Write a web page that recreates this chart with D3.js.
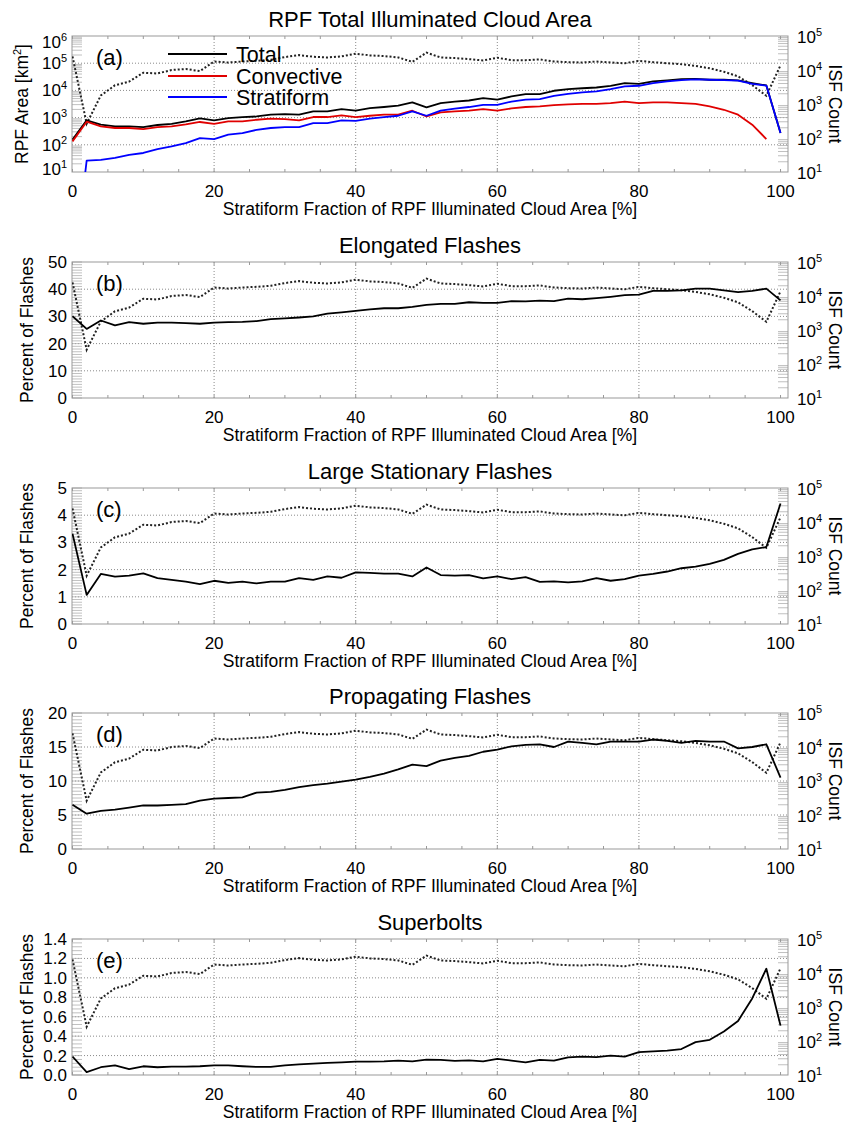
<!DOCTYPE html>
<html><head><meta charset="utf-8">
<script src="https://cdn.jsdelivr.net/npm/d3@7/dist/d3.min.js"></script>
<style>
body{margin:0;background:#fff}
text{font-family:"Liberation Sans",Arial,Helvetica,sans-serif;fill:#000}
</style>
</head><body>
<svg id="chart" width="849" height="1122"></svg>
<script>
// ---------- data ----------
const stratFrac = [0,2,4,6,8,10,12,14,16,18,20,22,24,26,28,30,32,34,36,38,40,42,44,46,48,50,52,54,56,58,60,62,64,66,68,70,72,74,76,78,80,82,84,86,88,90,92,94,96,98,100];
const areaTotal = [155,795,550,475,475,450,535,590,725,935,790,960,1045,1100,1280,1350,1290,1700,1700,2040,1820,2230,2450,2750,3650,2360,3400,3900,4250,5200,4550,6000,7300,7300,9700,11200,12000,12800,14800,18600,17500,21400,23300,25900,26700,24600,24600,23300,18600,15200,270];
const areaConv = [133,705,475,415,415,380,450,475,560,690,590,725,725,835,910,880,790,1050,1050,1200,1050,1170,1280,1280,1790,1100,1550,1700,1790,2040,1790,2170,2450,2590,2880,3040,3200,3200,3400,3900,3400,3650,3650,3400,3200,2590,1940,1280,550,163,null];
const areaStrat = [0.001,26,28,33,43,50,70,87,115,176,163,235,270,355,415,450,450,630,630,795,760,910,1050,1170,1700,1170,1790,2140,2450,2960,2960,3900,4550,4800,6300,7500,8500,9200,11200,14100,14800,18600,21400,24000,25300,24600,24000,22800,17500,15000,270];
const isfCount = [25100,263,1780,3550,4570,8300,7900,10000,10700,9300,17800,16600,17800,18600,20000,24000,27500,24500,23400,25100,30200,26900,25700,23400,17400,32400,23400,22400,20900,19100,22900,19500,19500,20400,17800,17000,16600,17800,16600,15800,18600,17000,15800,14800,13200,11200,8900,6500,3600,1740,13800];
const pctElongated = [30.1,25.4,28.5,26.7,27.9,27.3,27.7,27.7,27.5,27.3,27.7,27.9,28.0,28.3,29.0,29.3,29.6,30.0,31.0,31.5,32.0,32.6,33.0,33.0,33.5,34.2,34.6,34.6,35.2,35.0,35.0,35.6,35.5,35.8,35.6,36.5,36.3,36.7,37.2,37.8,38.0,39.4,39.4,39.6,40.2,40.2,39.6,38.9,39.4,40.2,35.9];
const pctLargeStationary = [3.32,1.07,1.84,1.74,1.78,1.86,1.69,1.62,1.56,1.47,1.59,1.51,1.56,1.49,1.56,1.56,1.69,1.62,1.75,1.70,1.90,1.88,1.85,1.85,1.75,2.08,1.80,1.78,1.80,1.68,1.75,1.65,1.72,1.55,1.57,1.53,1.57,1.69,1.59,1.65,1.78,1.84,1.93,2.05,2.11,2.21,2.36,2.58,2.74,2.83,4.43];
const pctPropagating = [6.5,5.2,5.6,5.8,6.1,6.4,6.4,6.5,6.6,7.1,7.4,7.5,7.6,8.3,8.4,8.7,9.1,9.4,9.6,9.9,10.2,10.6,11.1,11.7,12.4,12.2,13.0,13.4,13.7,14.3,14.6,15.1,15.3,15.4,15.0,15.8,15.6,15.4,15.8,15.8,15.8,16.1,15.9,15.6,15.9,15.8,15.8,14.8,15.0,15.4,10.5];
const pctSuperbolts = [0.19,0.03,0.08,0.10,0.06,0.09,0.08,0.087,0.087,0.09,0.10,0.10,0.09,0.083,0.083,0.10,0.11,0.117,0.124,0.13,0.138,0.138,0.141,0.148,0.141,0.158,0.155,0.145,0.151,0.141,0.165,0.148,0.131,0.155,0.148,0.182,0.19,0.185,0.20,0.19,0.236,0.243,0.25,0.267,0.338,0.362,0.447,0.556,0.788,1.094,0.508];

const xTicks = [0,20,40,60,80,100];
const titles = ["RPF Total Illuminated Cloud Area","Elongated Flashes","Large Stationary Flashes","Propagating Flashes","Superbolts"];
const letters = ["(a)","(b)","(c)","(d)","(e)"];
const legendNames = ["Total","Convective","Stratiform"];
const leftTicksA = [1e1,1e2,1e3,1e4,1e5,1e6];
const rightTicks = [1e1,1e2,1e3,1e4,1e5];
const ticksB = [0,10,20,30,40,50];
const ticksC = [0,1,2,3,4,5];
const ticksD = [0,5,10,15,20];
const ticksE = [0,0.2,0.4,0.6,0.8,1.0,1.2,1.4];
const xTitle = "Stratiform Fraction of RPF Illuminated Cloud Area [%]";
const yTitlePct = "Percent of Flashes";
const yTitleRight = "ISF Count";

// ---------- layout ----------
const svg = d3.select("#chart");
const L = 72, R = 788, H = 136;
const tops = [36, 262, 488, 713, 939];
const x = d3.scaleLinear().domain([0,101]).range([72.5,787.6]);

const panels = [
  {log:true, domain:[10,1e6], ticks:leftTicksA, series:[
    {v:areaTotal,c:"#000000"},{v:areaConv,c:"#e00000"},{v:areaStrat,c:"#0000ff"}]},
  {domain:[0,50], ticks:ticksB, minor:1, fmt:d3.format("d"), series:[{v:pctElongated,c:"#000"}]},
  {domain:[0,5], ticks:ticksC, minor:0.1, fmt:d3.format("d"), series:[{v:pctLargeStationary,c:"#000"}]},
  {domain:[0,20], ticks:ticksD, minor:0.5, fmt:d3.format("d"), series:[{v:pctPropagating,c:"#000"}]},
  {domain:[0,1.4], ticks:ticksE, minor:0.04, fmt:d3.format(".1f"), series:[{v:pctSuperbolts,c:"#000"}]}
];

function supLabel(sel, base, exp){
  sel.append("tspan").text(base);
  sel.append("tspan").attr("dy",-7).attr("font-size",11).text(exp);
}

panels.forEach((p,i)=>{
  const top = tops[i], bot = top+H;
  const g = svg.append("g");
  const y = p.log ? d3.scaleLog().domain(p.domain).range([bot,top])
                  : d3.scaleLinear().domain(p.domain).range([bot,top]);
  const yr = d3.scaleLog().domain([10,1e5]).range([bot,top]);

  const clipId = "clip"+i;
  svg.append("clipPath").attr("id",clipId).append("rect")
     .attr("x",L).attr("y",top).attr("width",R-L).attr("height",H);

  // grid
  g.selectAll(".vg").data(xTicks.filter(t=>t>0&&t<100)).join("line")
    .attr("x1",d=>x(d)).attr("x2",d=>x(d)).attr("y1",top).attr("y2",bot)
    .attr("stroke","#8a8a8a").attr("stroke-width",1).attr("stroke-dasharray","1,2");
  g.selectAll(".hg").data(p.ticks.filter(t=>y(t)>top+1&&y(t)<bot-1)).join("line")
    .attr("x1",L).attr("x2",R).attr("y1",d=>y(d)).attr("y2",d=>y(d))
    .attr("stroke","#8a8a8a").attr("stroke-width",1).attr("stroke-dasharray","1,2");

  // left minor ticks
  let leftMinor = [];
  if(p.log){
    for(let e=1;e<6;e++) for(let k=2;k<10;k++) leftMinor.push(k*Math.pow(10,e));
  } else {
    const n = Math.round((p.domain[1]-p.domain[0])/p.minor);
    for(let k=0;k<=n;k++) leftMinor.push(p.domain[0]+k*p.minor);
  }
  g.selectAll(".lm").data(leftMinor).join("line")
    .attr("x1",L).attr("x2",L+10).attr("y1",d=>y(d)).attr("y2",d=>y(d))
    .attr("stroke","#b0b0b0").attr("stroke-width",0.8);
  // right minor ticks (log)
  const rightMinor = [];
  for(let e=1;e<5;e++) for(let k=2;k<10;k++) rightMinor.push(k*Math.pow(10,e));
  g.selectAll(".rm").data(rightMinor).join("line")
    .attr("x1",R-10).attr("x2",R).attr("y1",d=>yr(d)).attr("y2",d=>yr(d))
    .attr("stroke","#b0b0b0").attr("stroke-width",0.8);
  // top/bottom minor ticks
  const xm = d3.range(0,101,5);
  g.selectAll(".xb").data(xm).join("line")
    .attr("x1",d=>x(d)).attr("x2",d=>x(d)).attr("y1",bot).attr("y2",bot-3)
    .attr("stroke","#999").attr("stroke-width",1);
  g.selectAll(".xt").data(xm).join("line")
    .attr("x1",d=>x(d)).attr("x2",d=>x(d)).attr("y1",top).attr("y2",top+3)
    .attr("stroke","#999").attr("stroke-width",1);

  // frame
  g.append("rect").attr("x",L).attr("y",top).attr("width",R-L).attr("height",H)
    .attr("fill","none").attr("stroke","#999").attr("stroke-width",1);

  const plot = g.append("g").attr("clip-path",`url(#${clipId})`);
  // ISF count dotted
  const lineR = d3.line().x((d,j)=>x(stratFrac[j])).y(d=>yr(d));
  plot.append("path").datum(isfCount).attr("d",lineR)
    .attr("fill","none").attr("stroke","#222").attr("stroke-width",2).attr("stroke-dasharray","2,2");
  // series
  const line = d3.line().defined(d=>d!=null).x((d,j)=>x(stratFrac[j])).y(d=>y(d));
  p.series.forEach(s=>{
    plot.append("path").datum(s.v).attr("d",line)
      .attr("fill","none").attr("stroke",s.c).attr("stroke-width",1.8).attr("stroke-linejoin","round");
  });

  // x tick labels
  g.selectAll(".xl").data(xTicks).join("text")
    .attr("x",d=>x(d)).attr("y",bot+25).attr("text-anchor","middle").attr("font-size",17)
    .text(d=>d);
  // x title
  g.append("text").attr("x",(L+R)/2).attr("y",bot+43).attr("text-anchor","middle")
    .attr("font-size",17.5).text(xTitle);
  // title
  g.append("text").attr("x",(L+R)/2).attr("y",top-9).attr("text-anchor","middle")
    .attr("font-size",22).text(titles[i]);
  // panel letter
  g.append("text").attr("x",96).attr("y",top+29).attr("font-size",22).text(letters[i]);

  // left tick labels
  if(p.log){
    p.ticks.forEach((t,k)=>{
      const yy = Math.min(Math.max(y(t),top+6),bot-3);
      const tx = g.append("text").attr("x",67).attr("y",yy+6).attr("text-anchor","end").attr("font-size",17);
      supLabel(tx,"10",String(Math.round(Math.log10(t))));
    });
  } else {
    g.selectAll(".yl").data(p.ticks).join("text")
      .attr("x",67).attr("y",d=>y(d)+6).attr("text-anchor","end").attr("font-size",17)
      .text(d=>p.fmt(d));
  }
  // right tick labels
  rightTicks.forEach(t=>{
    const tx = g.append("text").attr("x",797).attr("y",yr(t)+7).attr("font-size",17);
    supLabel(tx,"10",String(Math.round(Math.log10(t))));
  });
  // right title
  g.append("text").attr("transform",`translate(829,${top+H/2}) rotate(90)`)
    .attr("text-anchor","middle").attr("font-size",17.5).text(yTitleRight);
  // left title
  if(p.log){
    const t = g.append("text").attr("transform",`translate(28,${top+H/2}) rotate(-90)`)
      .attr("text-anchor","middle").attr("font-size",17.5);
    t.append("tspan").text("RPF Area [km");
    t.append("tspan").attr("dy",-7).attr("font-size",11).text("2");
    t.append("tspan").attr("dy",7).text("]");
  } else {
    g.append("text").attr("transform",`translate(33,${top+H/2}) rotate(-90)`)
      .attr("text-anchor","middle").attr("font-size",17.5).text(yTitlePct);
  }

  // legend in panel a
  if(i===0){
    const ly = [54,76,97];
    p.series.forEach((s,k)=>{
      g.append("line").attr("x1",168).attr("x2",227).attr("y1",ly[k]).attr("y2",ly[k])
        .attr("stroke",s.c).attr("stroke-width",2);
      g.append("text").attr("x",236).attr("y",ly[k]+7.5).attr("font-size",21.5).text(legendNames[k]);
    });
  }
});
</script>
</body></html>
